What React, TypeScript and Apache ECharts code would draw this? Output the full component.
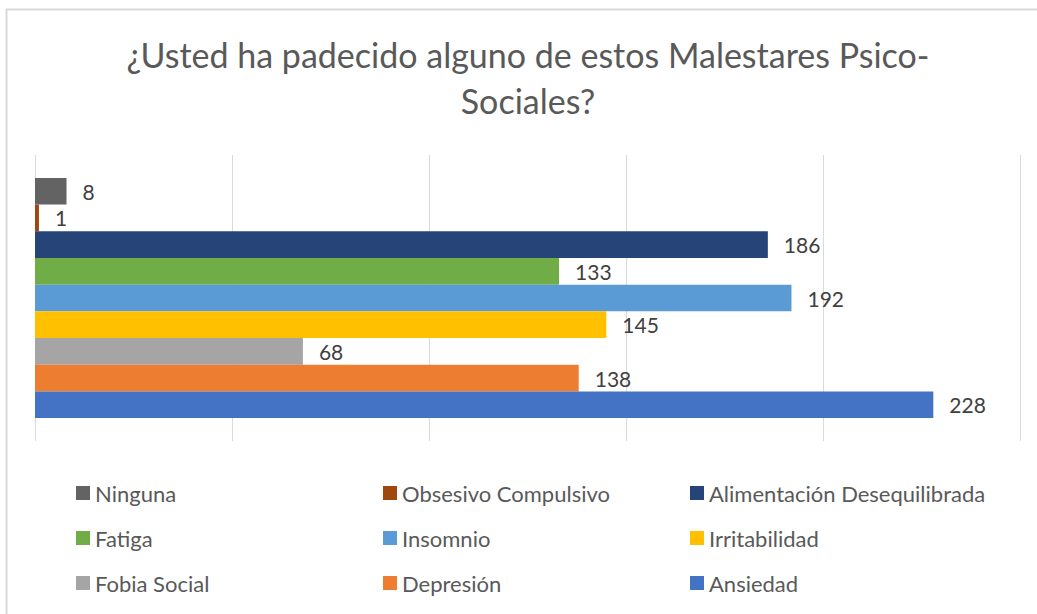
import React, { useEffect, useRef } from "react";
import * as echarts from "echarts";

const seriesNames = [
  "Ninguna",
  "Obsesivo Compulsivo",
  "Alimentación Desequilibrada",
  "Fatiga",
  "Insomnio",
  "Irritabilidad",
  "Fobia Social",
  "Depresión",
  "Ansiedad",
];
const seriesValues = [8, 1, 186, 133, 192, 145, 68, 138, 228];
const seriesColors = [
  "#636363",
  "#9E480E",
  "#264478",
  "#70AD47",
  "#5B9BD5",
  "#FFC000",
  "#A5A5A5",
  "#ED7D31",
  "#4472C4",
];
const categories = [""];
const legendColumns = [
  ["Ninguna", "Fatiga", "Fobia Social"],
  ["Obsesivo Compulsivo", "Insomnio", "Depresión"],
  ["Alimentación Desequilibrada", "Irritabilidad", "Ansiedad"],
];
const titleText = "¿Usted ha padecido alguno de estos Malestares Psico-\nSociales?";

const FONT = "Lato, 'Open Sans', sans-serif";

export default function App() {
  const ref = useRef<HTMLDivElement>(null);
  useEffect(() => {
    if (!ref.current) return;
    const chart = echarts.init(ref.current, null, { renderer: "svg" });
    const legendLefts = [76, 383, 690];
    chart.setOption({
      animation: false,
      backgroundColor: "#ffffff",
      grid: { left: 35, right: 17, top: 155, bottom: 173, containLabel: false },
      xAxis: {
        type: "value",
        min: 0,
        max: 250,
        interval: 50,
        axisLabel: { show: false },
        axisLine: { show: false },
        axisTick: { show: false },
        splitLine: { show: true, lineStyle: { color: "#d9d9d9", width: 1 } },
      },
      yAxis: {
        type: "category",
        data: categories,
        axisLine: { show: false },
        axisTick: { show: false },
        axisLabel: { show: false },
      },
      legend: legendColumns.map((col, i) => ({
        data: col,
        orient: "vertical",
        left: legendLefts[i],
        top: 482,
        padding: 0,
        itemGap: 23,
        itemWidth: 14,
        itemHeight: 14,
        icon: "rect",
        selectedMode: false,
        textStyle: {
          fontFamily: FONT,
          fontSize: 22,
          color: "#595959",
          lineHeight: 22,
        },
      })),
      series: seriesNames.map((name, i) => ({
        type: "bar",
        name,
        data: [seriesValues[i]],
        itemStyle: { color: seriesColors[i] },
        barGap: "0%",
        barCategoryGap: "16%",
        label: {
          show: true,
          position: "right",
          distance: 16,
          fontFamily: FONT,
          fontSize: 21,
          color: "#404040",
        },
      })),
      graphic: [
        {
          type: "text",
          x: 528,
          y: 31,
          style: {
            text: titleText,
            textAlign: "center",
            textVerticalAlign: "top",
            font: `normal 34px ${FONT}`,
            lineHeight: 46,
            fill: "#595959",
          },
        },
        {
          type: "line",
          shape: { x1: 6.5, y1: 9, x2: 6.5, y2: 614 },
          style: { stroke: "#d9d9d9", lineWidth: 2 },
        },
        {
          type: "line",
          shape: { x1: 6, y1: 9.5, x2: 1037, y2: 9.5 },
          style: { stroke: "#d9d9d9", lineWidth: 2 },
        },
      ],
    });
    return () => chart.dispose();
  }, []);
  return (
    <div
      ref={ref}
      style={{ position: "absolute", left: 0, top: 0, width: 1037, height: 614 }}
    />
  );
}
